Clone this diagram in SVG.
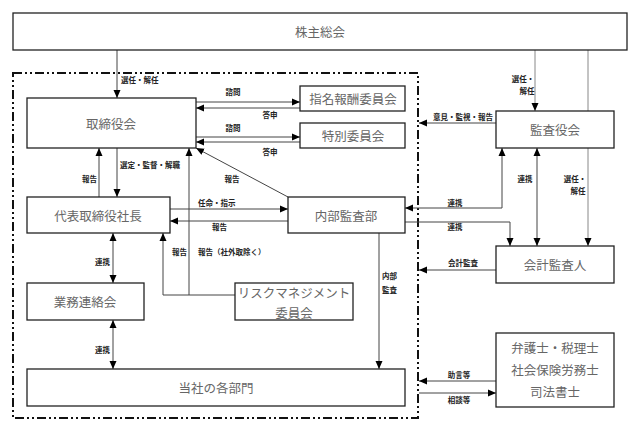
<svg xmlns="http://www.w3.org/2000/svg" width="641" height="432" viewBox="0 0 641 432">
<style>
.box{fill:#fff;stroke:#222;stroke-width:1.3}
.bt{font-family:"Noto Sans CJK JP","Noto Sans",sans-serif;font-size:12.5px;fill:#666;text-anchor:middle;dominant-baseline:central}
.lb{font-family:"Noto Sans CJK JP","Noto Sans",sans-serif;font-size:7.5px;font-weight:bold;fill:#222}
.c{fill:none;stroke:#444;stroke-width:1}
.g{fill:none;stroke:#888;stroke-width:1}
.m{text-anchor:middle}
.e{text-anchor:end}
</style>
<defs>
<marker id="a" viewBox="0 0 8 8" refX="8" refY="4" markerWidth="8" markerHeight="8" markerUnits="userSpaceOnUse" orient="auto-start-reverse">
<path d="M0,0.5 L8,4 L0,7.5 z" fill="#000"/>
</marker>
</defs>
<rect width="641" height="432" fill="#fff"/>
<rect x="13" y="73" width="405" height="345" fill="none" stroke="#111" stroke-width="2" stroke-dasharray="9 3 2 3 2 3"/>

<g id="connectors">
<path class="c" d="M117,50 V98" marker-end="url(#a)"/>
<path class="c" d="M196,102 H300" marker-end="url(#a)"/>
<path class="c" d="M300,108 H196" marker-end="url(#a)"/>
<path class="c" d="M196,137 H300" marker-end="url(#a)"/>
<path class="c" d="M300,142 H196" marker-end="url(#a)"/>
<path class="c" d="M117,148 V197" marker-end="url(#a)"/>
<path class="c" d="M99,197 V148" marker-end="url(#a)"/>
<path class="c" d="M170,209 H288" marker-end="url(#a)"/>
<path class="c" d="M288,221 H170" marker-end="url(#a)"/>
<path class="c" d="M288,197 L196,148" marker-end="url(#a)"/>
<path class="c" d="M235,295 H163 V233" marker-end="url(#a)"/>
<path class="c" d="M189,295 V148" marker-end="url(#a)"/>
<path class="c" d="M113,233 V283" marker-start="url(#a)" marker-end="url(#a)"/>
<path class="c" d="M113,320 V369" marker-start="url(#a)" marker-end="url(#a)"/>
<path class="c" d="M379,233 V369" marker-end="url(#a)"/>
<path class="g" d="M535,50 V111" marker-end="url(#a)"/>
<path class="g" d="M588,50 V246" marker-end="url(#a)"/>
<path class="c" d="M496,123 H419" marker-end="url(#a)"/>
<path class="c" d="M502,148 V208 H405" marker-start="url(#a)" marker-end="url(#a)"/>
<path class="c" d="M405,222 H510 V246" marker-end="url(#a)"/>
<path class="c" d="M537,148 V246" marker-start="url(#a)" marker-end="url(#a)"/>
<path class="c" d="M496,270 H419" marker-end="url(#a)"/>
<path class="c" d="M496,381 H419" marker-end="url(#a)"/>
<path class="c" d="M419,393 H496" marker-end="url(#a)"/>
<text class="lb" x="121" y="83">選任・解任</text>
<text class="lb m" x="233" y="95">諮問</text>
<text class="lb m" x="270" y="118">答申</text>
<text class="lb m" x="233" y="131">諮問</text>
<text class="lb m" x="270" y="155">答申</text>
<text class="lb" x="120" y="168">選定・監督・解職</text>
<text class="lb e" x="97" y="182">報告</text>
<text class="lb m" x="232" y="182">報告</text>
<text class="lb" x="198" y="206">任命・指示</text>
<text class="lb" x="212" y="230">報告</text>
<text class="lb" x="172" y="255">報告</text>
<text class="lb" x="198" y="255">報告（社外取除く）</text>
<text class="lb e" x="110" y="265">連携</text>
<text class="lb e" x="110" y="353">連携</text>
<text class="lb" x="382" y="279">内部</text>
<text class="lb" x="382" y="293">監査</text>
<text class="lb m" x="463" y="120">意見・監視・報告</text>
<text class="lb m" x="523" y="82">選任・</text>
<text class="lb m" x="527" y="94">解任</text>
<text class="lb m" x="525" y="182">連携</text>
<text class="lb m" x="575" y="182">選任・</text>
<text class="lb m" x="578" y="194">解任</text>
<text class="lb m" x="455" y="206">連携</text>
<text class="lb m" x="455" y="230">連携</text>
<text class="lb m" x="463" y="266">会計監査</text>
<text class="lb m" x="459" y="378">助言等</text>
<text class="lb m" x="459" y="403">相談等</text>
</g>

<g id="kabunushi"><rect class="box" x="13" y="13" width="614" height="37"/><text class="bt" x="320" y="31">株主総会</text></g>
<g id="torishimariyakukai"><rect class="box" x="27" y="98" width="169" height="50"/><text class="bt" x="111" y="123">取締役会</text></g>
<g id="shimei"><rect class="box" x="300" y="86" width="105" height="25"/><text class="bt" x="353" y="98.5">指名報酬委員会</text></g>
<g id="tokubetsu"><rect class="box" x="300" y="123" width="105" height="25"/><text class="bt" x="353" y="135.5">特別委員会</text></g>
<g id="kansayakukai"><rect class="box" x="496" y="111" width="118" height="37"/><text class="bt" x="555" y="129.5">監査役会</text></g>
<g id="daihyo"><rect class="box" x="27" y="197" width="143" height="36"/><text class="bt" x="98" y="215">代表取締役社長</text></g>
<g id="naibukansa"><rect class="box" x="288" y="197" width="117" height="36"/><text class="bt" x="346" y="215">内部監査部</text></g>
<g id="kaikeikansanin"><rect class="box" x="496" y="246" width="118" height="37"/><text class="bt" x="555" y="264.5">会計監査人</text></g>
<g id="gyomu"><rect class="box" x="27" y="283" width="117" height="37"/><text class="bt" x="85" y="301.5">業務連絡会</text></g>
<g id="risk"><rect class="box" x="235" y="283" width="118" height="37"/><text class="bt" x="294" y="292">リスクマネジメント</text><text class="bt" x="294" y="312">委員会</text></g>
<g id="kakubumon"><rect class="box" x="27" y="369" width="378" height="37"/><text class="bt" x="216" y="387.5">当社の各部門</text></g>
<g id="bengoshi"><rect class="box" x="496" y="333" width="118" height="74"/><text class="bt" x="555" y="347">弁護士・税理士</text><text class="bt" x="555" y="369">社会保険労務士</text><text class="bt" x="555" y="391">司法書士</text></g>
</svg>
